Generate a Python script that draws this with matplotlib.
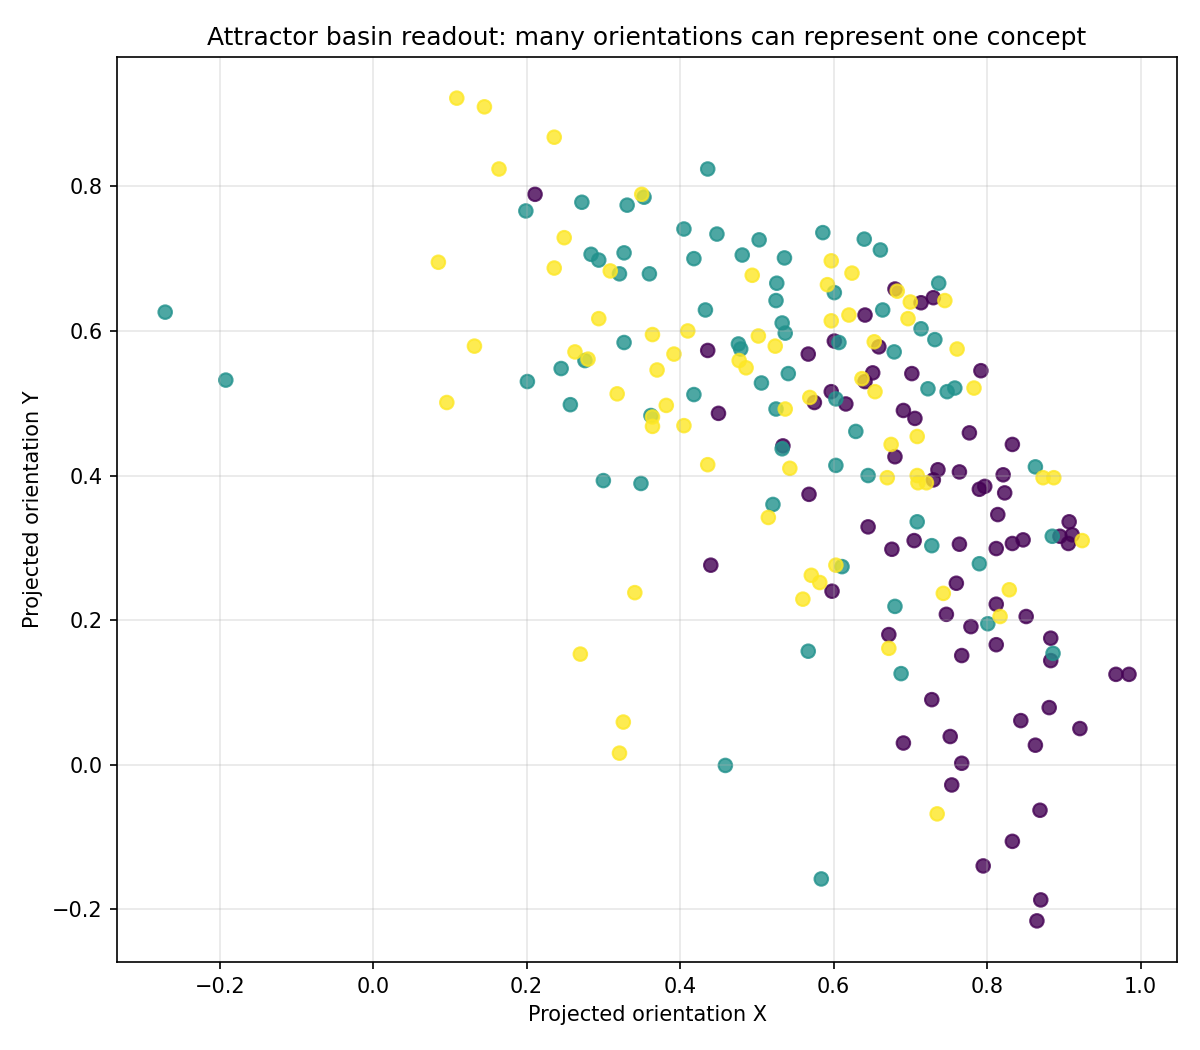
import numpy as np
import matplotlib
matplotlib.use("Agg")
import matplotlib.pyplot as plt

# concept 0 (purple)
x_c0 = [0.211, 0.436, 0.450, 0.534, 0.680, 0.714, 0.730, 0.641, 0.601, 0.659,
        0.567, 0.651, 0.641, 0.702, 0.792, 0.597, 0.575, 0.616, 0.691, 0.706,
        0.777, 0.833, 0.680, 0.736, 0.764, 0.730, 0.821, 0.790, 0.797, 0.823,
        0.568, 0.814, 0.645, 0.907, 0.895, 0.911, 0.906, 0.705, 0.764, 0.833,
        0.847, 0.812, 0.676, 0.440, 0.760, 0.598, 0.812, 0.747, 0.851, 0.779,
        0.672, 0.812, 0.883, 0.883, 0.767, 0.968, 0.985, 0.728, 0.881, 0.844,
        0.921, 0.752, 0.691, 0.863, 0.767, 0.754, 0.869, 0.833, 0.795, 0.870,
        0.865]
y_c0 = [0.789, 0.573, 0.486, 0.441, 0.658, 0.639, 0.646, 0.622, 0.586, 0.578,
        0.568, 0.542, 0.530, 0.541, 0.545, 0.516, 0.501, 0.499, 0.490, 0.479,
        0.459, 0.443, 0.426, 0.408, 0.405, 0.394, 0.401, 0.381, 0.385, 0.376,
        0.374, 0.346, 0.329, 0.336, 0.316, 0.318, 0.306, 0.310, 0.305, 0.306,
        0.311, 0.299, 0.298, 0.276, 0.251, 0.240, 0.222, 0.208, 0.205, 0.191,
        0.180, 0.166, 0.175, 0.144, 0.151, 0.125, 0.125, 0.090, 0.079, 0.061,
        0.050, 0.039, 0.030, 0.027, 0.002, -0.028, -0.063, -0.106, -0.140, -0.187,
        -0.216]

# concept 1 (teal)
x_c1 = [-0.271, -0.192, 0.201, 0.436, 0.199, 0.272, 0.331, 0.353, 0.284, 0.294,
        0.327, 0.321, 0.360, 0.405, 0.448, 0.503, 0.481, 0.536, 0.418, 0.526,
        0.525, 0.433, 0.533, 0.537, 0.327, 0.476, 0.479, 0.276, 0.245, 0.541,
        0.506, 0.418, 0.257, 0.362, 0.525, 0.533, 0.586, 0.640, 0.661, 0.601,
        0.737, 0.664, 0.607, 0.714, 0.732, 0.679, 0.723, 0.748, 0.758, 0.603,
        0.629, 0.863, 0.603, 0.645, 0.521, 0.709, 0.885, 0.728, 0.300, 0.349,
        0.459, 0.790, 0.611, 0.680, 0.801, 0.567, 0.886, 0.688, 0.584]
y_c1 = [0.626, 0.532, 0.530, 0.824, 0.766, 0.778, 0.774, 0.785, 0.706, 0.698,
        0.708, 0.679, 0.679, 0.741, 0.734, 0.726, 0.705, 0.701, 0.700, 0.666,
        0.642, 0.629, 0.611, 0.597, 0.584, 0.582, 0.575, 0.559, 0.548, 0.541,
        0.528, 0.512, 0.498, 0.483, 0.492, 0.437, 0.736, 0.727, 0.712, 0.653,
        0.666, 0.629, 0.584, 0.603, 0.588, 0.571, 0.520, 0.516, 0.521, 0.506,
        0.461, 0.412, 0.414, 0.400, 0.360, 0.336, 0.316, 0.303, 0.393, 0.389,
        -0.001, 0.278, 0.274, 0.219, 0.195, 0.157, 0.154, 0.126, -0.158]

# concept 2 (yellow)
x_c2 = [0.109, 0.145, 0.164, 0.085, 0.132, 0.096, 0.236, 0.350, 0.249, 0.236,
        0.309, 0.494, 0.294, 0.410, 0.364, 0.502, 0.524, 0.263, 0.280, 0.392,
        0.477, 0.486, 0.370, 0.318, 0.382, 0.364, 0.364, 0.405, 0.537, 0.597,
        0.624, 0.592, 0.683, 0.700, 0.745, 0.620, 0.597, 0.697, 0.653, 0.761,
        0.637, 0.654, 0.783, 0.569, 0.709, 0.675, 0.873, 0.887, 0.543, 0.670,
        0.709, 0.710, 0.721, 0.515, 0.924, 0.436, 0.341, 0.270, 0.326, 0.321,
        0.603, 0.571, 0.582, 0.560, 0.743, 0.829, 0.817, 0.672, 0.735]
y_c2 = [0.922, 0.910, 0.824, 0.695, 0.579, 0.501, 0.868, 0.789, 0.729, 0.687,
        0.683, 0.677, 0.617, 0.600, 0.595, 0.593, 0.579, 0.571, 0.561, 0.568,
        0.559, 0.549, 0.546, 0.513, 0.497, 0.481, 0.468, 0.469, 0.492, 0.697,
        0.680, 0.664, 0.655, 0.640, 0.642, 0.622, 0.614, 0.617, 0.585, 0.575,
        0.534, 0.516, 0.521, 0.508, 0.454, 0.443, 0.397, 0.397, 0.410, 0.397,
        0.400, 0.390, 0.390, 0.342, 0.310, 0.415, 0.238, 0.153, 0.059, 0.016,
        0.276, 0.262, 0.252, 0.229, 0.237, 0.242, 0.205, 0.161, -0.068]

xs = np.array(x_c0 + x_c1 + x_c2)
ys = np.array(y_c0 + y_c1 + y_c2)
labels = np.array([0] * len(x_c0) + [1] * len(x_c1) + [2] * len(x_c2))

fig, ax = plt.subplots(figsize=(8, 7), dpi=150)
ax.scatter(xs, ys, c=labels, cmap="viridis", s=42, alpha=0.8)
ax.set_title("Attractor basin readout: many orientations can represent one concept")
ax.set_xlabel("Projected orientation X")
ax.set_ylabel("Projected orientation Y")
ax.grid(True, alpha=0.3)
fig.subplots_adjust(left=0.0975, right=0.981, top=0.9457, bottom=0.0838)
fig.savefig("out.png", dpi=150)
